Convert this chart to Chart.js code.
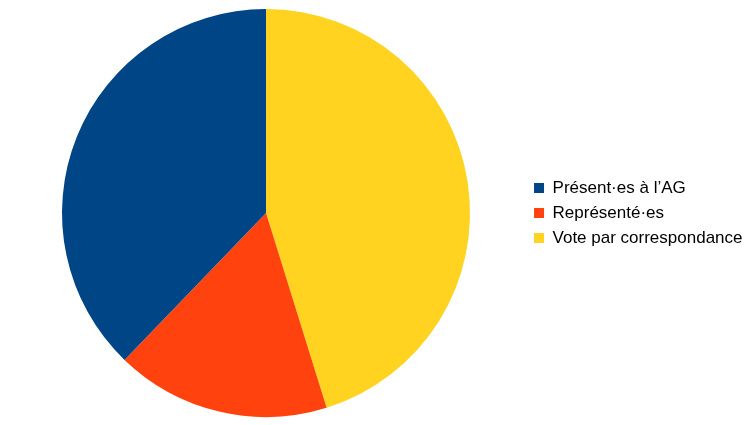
<!DOCTYPE html>
<html>
<head>
<meta charset="utf-8">
<script src="https://cdn.jsdelivr.net/npm/chart.js@4"></script>
<style>
  html, body { margin: 0; padding: 0; background: #fff; }
  canvas { display: block; }
</style>
</head>
<body>
<canvas id="myChart" width="756" height="425"></canvas>
<script>
// data is listed in drawing order (clockwise from the top); the legend is shown reversed
const categories = ["Vote par correspondance", "Représenté·es", "Présent·es à l’AG"];
const shares = [45.2, 17.0, 37.8];
const colors = ["#ffd320", "#ff420e", "#004586"];

const ctx = document.getElementById("myChart").getContext("2d");
const myChart = new Chart(ctx, {
    type: "pie",
    data: {
        labels: categories,
        datasets: [
            {
                data: shares,
                backgroundColor: colors,
                borderWidth: 0,
            },
        ],
    },
    options: {
        responsive: false,
        animation: false,
        layout: {
            padding: { top: 9, bottom: 8, left: 6, right: 3.5 },
        },
        plugins: {
            tooltip: { enabled: false },
            legend: {
                position: "right",
                reverse: true,
                labels: {
                    boxWidth: 10,
                    boxHeight: 10,
                    padding: 8,
                    color: "#000",
                    font: { family: "Liberation Sans", size: 17 },
                },
            },
        },
    },
});
</script>
</body>
</html>
